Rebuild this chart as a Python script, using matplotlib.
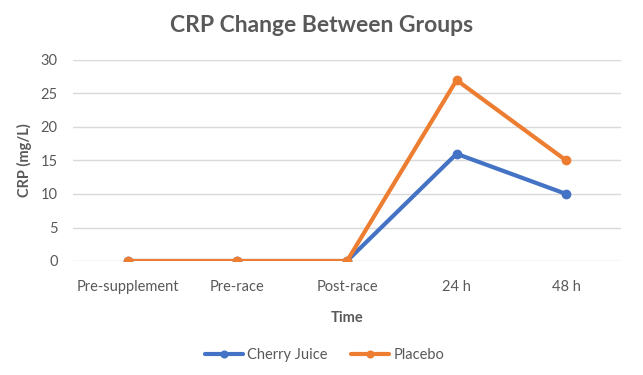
import matplotlib
matplotlib.use("Agg")
import matplotlib.pyplot as plt

categories = ["Pre-supplement", "Pre-race", "Post-race", "24 h", "48 h"]
cherry = [0, 0, 0, 16, 10]
placebo = [0, 0, 0, 27, 15]
yticks = [0, 5, 10, 15, 20, 25, 30]

plt.rcParams['font.family'] = ['Lato', 'DejaVu Sans']
gray = "#595959"

fig = plt.figure(figsize=(6.43, 3.75), dpi=100)
ax = fig.add_axes([73/643, 1-261/375, (621-73)/643, (261-60)/375])
x = list(range(len(categories)))
ax.plot(x, cherry, color="#4472C4", lw=3, marker="o", ms=6, label="Cherry Juice", solid_capstyle="round")
ax.plot(x, placebo, color="#ED7D31", lw=3, marker="o", ms=6, label="Placebo", solid_capstyle="round")
ax.set_xlim(-0.5, len(categories) - 0.5)
ax.set_ylim(0, 30)
ax.set_yticks(yticks)
ax.set_xticks(x)
ax.set_xticklabels(categories)
ax.grid(axis="y", color="#d9d9d9", lw=1)
ax.set_axisbelow(True)
for s in ax.spines.values():
    s.set_visible(False)
ax.tick_params(length=0, colors=gray, labelsize=10.5)
ax.tick_params(axis="x", pad=14)
ax.tick_params(axis="y", pad=11)
ax.set_xlabel("Time", color=gray, fontsize=10.5, fontweight="bold", labelpad=12)
ax.set_ylabel("CRP (mg/L)", color=gray, fontsize=10.5, fontweight="bold", labelpad=6)
fig.suptitle("CRP Change Between Groups", x=0.5, y=0.96, color=gray, fontsize=16.5, fontweight="bold")
leg = fig.legend(loc="center", bbox_to_anchor=(0.505, 1-355/375), ncol=2, frameon=False,
                 fontsize=10.5, handlelength=2.6, handletextpad=0.3, columnspacing=1.6,
                 labelcolor=gray, markerscale=0.8)
fig.savefig("out.png", dpi=100)
